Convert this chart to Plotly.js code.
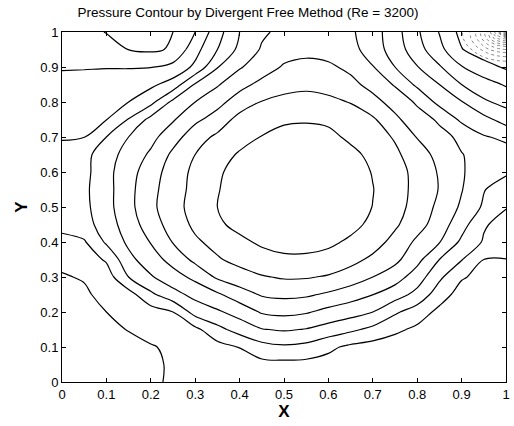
<!DOCTYPE html>
<html>
<head>
<meta charset="utf-8">
<script src="https://cdn.plot.ly/plotly-3.0.1.min.js"></script>
<style>
  html, body { margin: 0; padding: 0; background: #fff; }
  #chart { width: 514px; height: 426px; }
</style>
</head>
<body>
<div id="chart"></div>
<script>
// Grid coordinates (x across, y up) of the estimated pressure field
const xCoords = [0,0.05,0.1,0.15,0.2,0.25,0.3,0.35,0.4,0.45,0.5,0.55,0.6,0.65,0.7,0.75,0.8,0.85,0.9,0.95,1];
const yCoords = [0,0.05,0.1,0.15,0.2,0.25,0.3,0.35,0.4,0.45,0.5,0.55,0.6,0.65,0.7,0.75,0.8,0.85,0.9,0.95,1];

// Pressure level estimates (one row per y value)
const pressureRows = [
  [8.6, 8.5, 8.35, 8.2, 8.06, 7.95, 7.85, 7.75, 7.65, 7.55, 7.5, 7.5, 7.55, 7.6, 7.65, 7.7, 7.75, 7.8, 7.85, 7.88, 7.9],
  [8.5, 8.4, 8.3, 8.18, 8.1, 7.93, 7.7, 7.5, 7.38, 7.3, 7.28, 7.3, 7.35, 7.4, 7.48, 7.55, 7.62, 7.68, 7.74, 7.78, 7.8],
  [8.45, 8.38, 8.27, 8.15, 8.04, 7.9, 7.65, 7.35, 6.97, 6.35, 6.15, 6.3, 6.8, 7.2, 7.4, 7.52, 7.6, 7.65, 7.7, 7.74, 7.76],
  [8.35, 8.25, 8.12, 7.98, 7.8, 7.55, 7.25, 6.3, 5.6, 5.05, 4.9, 5.05, 5.4, 5.8, 6.25, 6.8, 7.2, 7.4, 7.5, 7.58, 7.62],
  [8.25, 8.12, 8.0, 7.75, 7.45, 7.0, 5.6, 5.15, 4.6, 3.9, 3.75, 3.9, 4.3, 4.6, 5.0, 5.85, 6.5, 7.25, 7.45, 7.55, 7.6],
  [8.15, 8.1, 7.8, 7.4, 6.2, 5.35, 4.7, 4.15, 3.45, 2.9, 2.77, 2.85, 3.15, 3.55, 3.98, 4.55, 5.3, 6.55, 7.4, 7.5, 7.55],
  [8.05, 7.95, 7.5, 6.0, 5.1, 4.4, 3.75, 2.85, 2.4, 2.08, 1.9, 1.92, 2.1, 2.45, 3.0, 3.55, 4.5, 5.8, 6.9, 7.3, 7.4],
  [7.85, 7.5, 6.88, 5.28, 4.45, 3.65, 2.75, 2.1, 1.7, 1.35, 1.15, 1.15, 1.3, 1.7, 2.2, 2.75, 3.7, 5.0, 5.95, 7.0, 7.02],
  [7.25, 7.1, 5.85, 4.8, 3.95, 2.95, 2.15, 1.7, 1.2, 0.85, 0.72, 0.72, 0.82, 1.15, 1.6, 2.3, 3.2, 3.95, 5.2, 6.1, 6.45],
  [6.75, 6.4, 5.5, 4.5, 3.5, 2.55, 1.8, 1.15, 0.75, 0.5, 0.42, 0.42, 0.5, 0.75, 1.2, 1.85, 2.6, 3.5, 4.6, 5.9, 6.35],
  [6.6, 6.25, 5.35, 4.3, 3.25, 2.35, 1.65, 1.0, 0.6, 0.35, 0.25, 0.22, 0.3, 0.55, 1.02, 1.65, 2.35, 3.25, 4.15, 5.15, 5.95],
  [6.55, 6.2, 5.35, 4.3, 3.3, 2.45, 1.7, 1.05, 0.62, 0.35, 0.22, 0.18, 0.25, 0.5, 0.97, 1.6, 2.27, 3.05, 3.95, 4.95, 5.5],
  [6.5, 6.3, 5.3, 4.4, 3.45, 2.55, 1.75, 1.12, 0.7, 0.42, 0.27, 0.22, 0.3, 0.55, 1.05, 1.6, 2.3, 3.1, 3.93, 4.4, 4.85],
  [6.5, 6.3, 5.45, 4.6, 3.85, 2.8, 2.0, 1.4, 0.9, 0.6, 0.45, 0.4, 0.5, 0.8, 1.2, 1.8, 2.55, 3.3, 3.97, 4.3, 4.6],
  [7.12, 7.02, 6.0, 5.0, 4.3, 3.4, 2.45, 1.8, 1.35, 0.97, 0.75, 0.7, 0.8, 1.15, 1.55, 2.1, 3.05, 3.7, 4.2, 4.92, 5.2],
  [7.35, 7.25, 7.02, 5.95, 4.7, 4.1, 3.2, 2.6, 1.65, 1.3, 1.12, 1.08, 1.15, 1.4, 1.85, 2.8, 3.55, 4.15, 5.2, 5.7, 6.4],
  [7.5, 7.45, 7.3, 7.0, 6.3, 4.75, 4.0, 3.3, 2.55, 1.95, 1.72, 1.65, 1.75, 2.05, 2.7, 3.35, 4.15, 5.3, 5.95, 6.85, 7.3],
  [7.7, 7.68, 7.6, 7.45, 7.2, 6.6, 4.9, 4.1, 3.3, 2.75, 2.35, 2.22, 2.4, 2.75, 3.3, 4.1, 5.2, 6.0, 7.0, 7.6, 8.1],
  [8.08, 8.06, 8.04, 8.06, 8.04, 7.7, 6.8, 5.05, 4.1, 3.45, 2.9, 2.75, 2.85, 3.2, 3.95, 5.0, 5.95, 6.9, 7.95, 8.6, 9.15],
  [8.3, 8.3, 8.5, 9.02, 9.15, 8.9, 7.35, 6.0, 4.75, 3.9, 3.4, 3.25, 3.35, 3.65, 4.5, 5.45, 6.6, 7.7, 8.95, 9.6, 10.2],
  [8.4, 8.6, 9.05, 9.3, 9.3, 9.0, 8.0, 6.4, 5.0, 4.15, 3.75, 3.6, 3.65, 3.85, 4.55, 5.6, 6.85, 8.05, 9.3, 10.5, 11.0]
];

// Finer estimate of the dense high-pressure corner at (1, 1)
const cornerX = [0.86,0.88,0.90,0.92,0.94,0.96,0.98,1.0];
const cornerY = [0.86,0.88,0.90,0.92,0.94,0.96,0.98,1.0];
const cornerRows = [
  [5.45, 5.81, 6.12, 6.4, 6.66, 6.86, 6.98, 7.02],
  [6.05, 6.36, 6.74, 7.1, 7.45, 7.67, 7.86, 7.91],
  [6.44, 6.9, 7.4, 7.86, 8.3, 8.62, 8.89, 8.95],
  [6.9, 7.45, 8.05, 8.67, 9.25, 9.75, 10.09, 10.23],
  [7.32, 8.0, 8.73, 9.49, 10.3, 11.08, 11.6, 11.88],
  [7.67, 8.46, 9.31, 10.3, 11.42, 12.7, 13.66, 14.2],
  [7.86, 8.73, 9.75, 10.92, 12.38, 14.35, 16.67, 18.18],
  [7.95, 8.84, 9.88, 11.16, 12.81, 15.14, 19.11, 26]
];

const tickValues = [0,0.1,0.2,0.3,0.4,0.5,0.6,0.7,0.8,0.9,1];
const tickLabels = ['0','0.1','0.2','0.3','0.4','0.5','0.6','0.7','0.8','0.9','1'];

const mainTrace = {
  type: 'contour',
  x: xCoords, y: yCoords, z: pressureRows,
  autocontour: false,
  contours: { start: 1, end: 9, size: 1, coloring: 'none' },
  line: { color: '#000', width: 1.2, smoothing: 1 },
  showscale: false, hoverinfo: 'skip'
};
const cornerTrace = {
  type: 'contour',
  x: cornerX, y: cornerY, z: cornerRows,
  autocontour: false,
  contours: { start: 10, end: 25, size: 1, coloring: 'none' },
  line: { color: '#555', width: 0.7, dash: 'dot', smoothing: 1 },
  showscale: false, hoverinfo: 'skip'
};

const fam = 'Arial, Liberation Sans, sans-serif';
const axisFont = { family: fam, size: 13, color: '#000' };
const layout = {
  width: 514, height: 426,
  margin: { l: 62, r: 8, t: 32, b: 44 },
  paper_bgcolor: '#fff', plot_bgcolor: '#fff',
  showlegend: false,
  title: {
    text: 'Pressure Contour by Divergent Free Method (Re = 3200)',
    font: { family: fam, size: 13.5, color: '#000' },
    x: 248/514, xref: 'container', xanchor: 'center',
    y: 1 - 12/426, yref: 'container', yanchor: 'middle'
  },
  xaxis: {
    range: [0, 1], tickvals: tickValues, ticktext: tickLabels,
    ticks: 'inside', ticklen: 4, tickcolor: '#000', tickwidth: 1,
    showline: true, linecolor: '#000', linewidth: 1, mirror: 'ticks',
    showgrid: false, zeroline: false, tickfont: axisFont, automargin: false,
    title: { text: '<b>X</b>', font: { family: fam, size: 17, color: '#000' }, standoff: 2 }
  },
  yaxis: {
    range: [0, 1], tickvals: tickValues, ticktext: tickLabels,
    ticks: 'inside', ticklen: 4, tickcolor: '#000', tickwidth: 1,
    showline: true, linecolor: '#000', linewidth: 1, mirror: 'ticks',
    showgrid: false, zeroline: false, tickfont: axisFont, automargin: false,
    title: { text: '<b>Y</b>', font: { family: fam, size: 17, color: '#000' }, standoff: 8 }
  }
};

Plotly.newPlot('chart', [mainTrace, cornerTrace], layout, { staticPlot: true, displayModeBar: false });
</script>
</body>
</html>
